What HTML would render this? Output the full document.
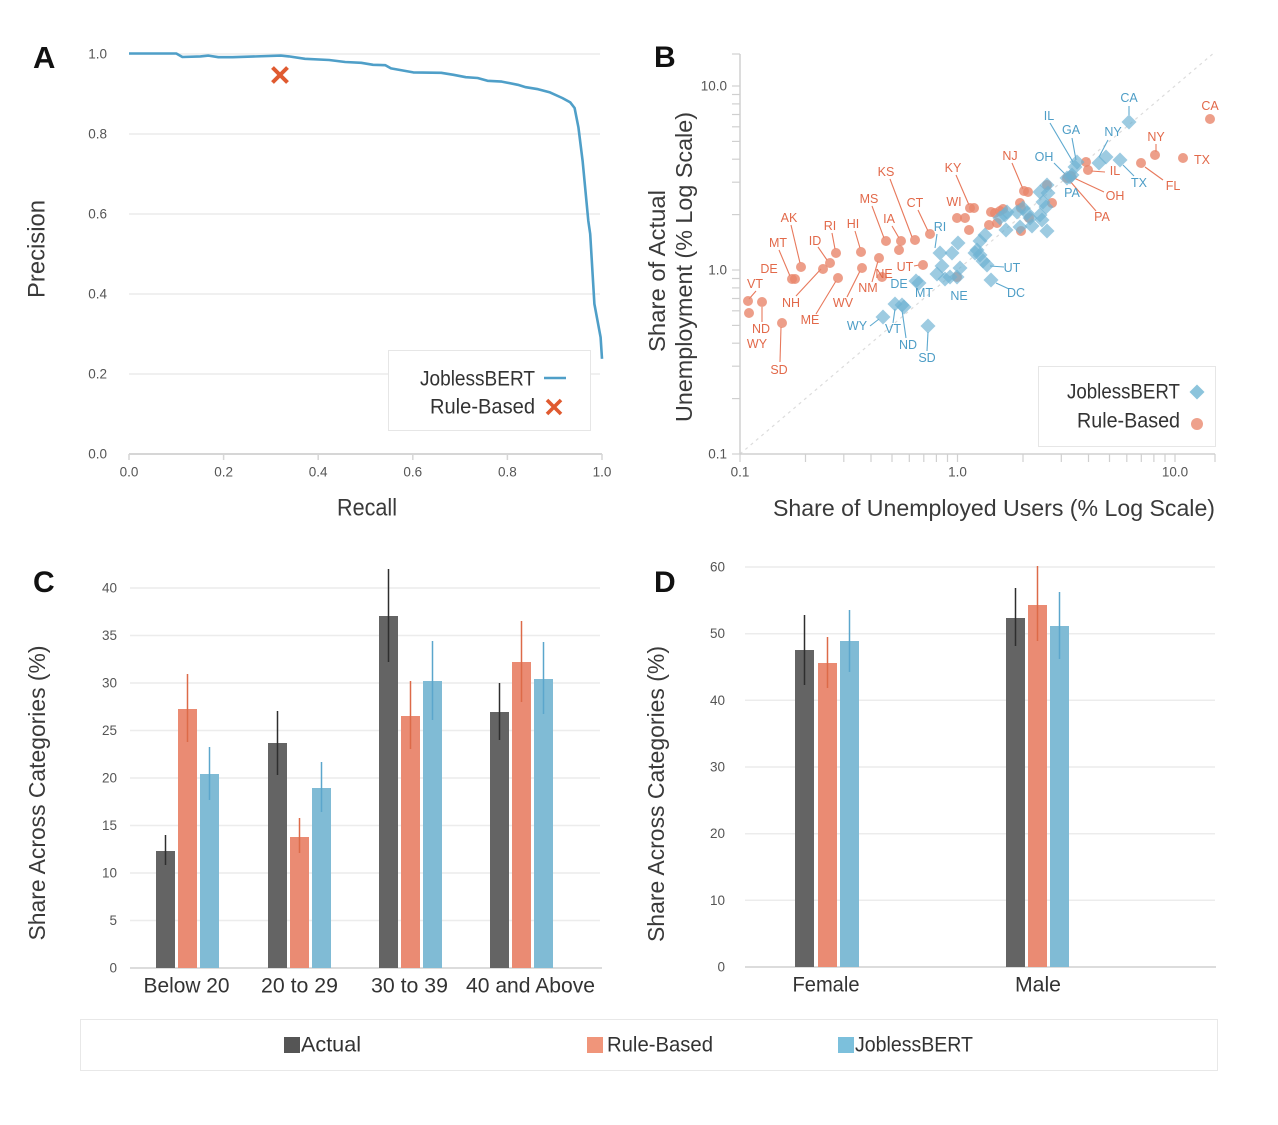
<!DOCTYPE html>
<html><head><meta charset="utf-8"><style>
html,body{margin:0;padding:0;background:#fff;}
svg{display:block;font-family:"Liberation Sans",sans-serif;}
</style></head><body>
<svg width="1278" height="1125" viewBox="0 0 1278 1125" xmlns="http://www.w3.org/2000/svg">
<defs>
<path id="dm" d="M0,-7.5L7.5,0L0,7.5L-7.5,0Z"/>
</defs>
<rect width="1278" height="1125" fill="#fff"/>

<!-- ============ PANEL A ============ -->
<text x="33" y="68" font-size="31" font-weight="bold" fill="#111">A</text>
<g stroke="#ececec" stroke-width="1.5">
<line x1="129" y1="54" x2="600" y2="54"/>
<line x1="129" y1="134" x2="600" y2="134"/>
<line x1="129" y1="214" x2="600" y2="214"/>
<line x1="129" y1="294" x2="600" y2="294"/>
<line x1="129" y1="374" x2="600" y2="374"/>
</g>
<line x1="129" y1="454" x2="602" y2="454" stroke="#d6d6d6" stroke-width="2"/>
<g stroke="#d6d6d6" stroke-width="1.5">
<line x1="129" y1="454" x2="129" y2="460"/><line x1="223.6" y1="454" x2="223.6" y2="460"/>
<line x1="318.2" y1="454" x2="318.2" y2="460"/><line x1="412.8" y1="454" x2="412.8" y2="460"/>
<line x1="507.4" y1="454" x2="507.4" y2="460"/><line x1="602" y1="454" x2="602" y2="460"/>
</g>
<g font-size="13.5" fill="#555" text-anchor="end" dominant-baseline="central">
<text x="107" y="54">1.0</text><text x="107" y="134">0.8</text><text x="107" y="214">0.6</text>
<text x="107" y="294">0.4</text><text x="107" y="374">0.2</text><text x="107" y="454">0.0</text>
</g>
<g font-size="13.5" fill="#555" text-anchor="middle" dominant-baseline="central">
<text x="129" y="472">0.0</text><text x="223.6" y="472">0.2</text><text x="318.2" y="472">0.4</text>
<text x="412.8" y="472">0.6</text><text x="507.4" y="472">0.8</text><text x="602" y="472">1.0</text>
</g>
<text x="367" y="508" font-size="24" fill="#3a3a3a" text-anchor="middle" dominant-baseline="central" textLength="60" lengthAdjust="spacingAndGlyphs">Recall</text>
<text transform="translate(37,249) rotate(-90)" font-size="24" fill="#3a3a3a" text-anchor="middle" dominant-baseline="central" textLength="98" lengthAdjust="spacingAndGlyphs">Precision</text>
<polyline fill="none" stroke="#4f9fc8" stroke-width="2.6" stroke-linejoin="round" points="129,53.5 176.3,53.5 182.4,57 200.4,56.4 208.5,55.6 218.4,57.2 232.6,57.2 280.8,55.6 288.9,56.4 305,58.8 329.1,60 345.2,62 361.2,62.8 373.1,64.8 385.4,65.2 391,68.4 413.3,72.4 441.2,72.8 453.5,74.8 465.8,77.2 477.6,78 487.5,80.8 501.7,81.6 517.8,84.8 525.8,87.2 538.1,89.2 550,92.4 562.3,98 570.3,102.4 574.6,108 578.4,127.2 582.6,160.8 588.3,220.8 590.2,234 594.4,304 600.6,337.2 602,358.8"/>
<g stroke="#e05a30" stroke-width="4" stroke-linecap="butt">
<line x1="272.5" y1="67.5" x2="287.5" y2="82.5"/><line x1="287.5" y1="67.5" x2="272.5" y2="82.5"/>
</g>
<rect x="388.5" y="350.5" width="202" height="80" fill="#fff" stroke="#e6e6e6" stroke-width="1"/>
<text x="535" y="379" font-size="21" fill="#333" text-anchor="end" dominant-baseline="central" textLength="115" lengthAdjust="spacingAndGlyphs">JoblessBERT</text>
<line x1="544" y1="378" x2="566" y2="378" stroke="#4f9fc8" stroke-width="2.6"/>
<text x="535" y="407" font-size="21" fill="#333" text-anchor="end" dominant-baseline="central" textLength="105" lengthAdjust="spacingAndGlyphs">Rule-Based</text>
<g stroke="#e05a30" stroke-width="3.6">
<line x1="547" y1="400" x2="561" y2="414"/><line x1="561" y1="400" x2="547" y2="414"/>
</g>

<!-- ============ PANEL B ============ -->
<text x="654" y="67" font-size="30" font-weight="bold" fill="#111">B</text>
<line x1="740" y1="454" x2="1215" y2="52" stroke="#dcdcdc" stroke-width="1.2" stroke-dasharray="3,4"/>
<line x1="740" y1="54" x2="740" y2="454" stroke="#d0d0d0" stroke-width="1.5"/>
<line x1="740" y1="454" x2="1215" y2="454" stroke="#d0d0d0" stroke-width="1.5"/>
<g stroke="#d0d0d0" stroke-width="1.2">
<line x1="732" y1="454" x2="740" y2="454"/><line x1="732" y1="398.6" x2="740" y2="398.6"/><line x1="732" y1="366.2" x2="740" y2="366.2"/><line x1="732" y1="343.2" x2="740" y2="343.2"/><line x1="732" y1="325.4" x2="740" y2="325.4"/><line x1="732" y1="310.8" x2="740" y2="310.8"/><line x1="732" y1="298.5" x2="740" y2="298.5"/><line x1="732" y1="287.9" x2="740" y2="287.9"/><line x1="732" y1="278.5" x2="740" y2="278.5"/><line x1="732" y1="270" x2="740" y2="270"/>
<line x1="732" y1="214.6" x2="740" y2="214.6"/><line x1="732" y1="182.2" x2="740" y2="182.2"/><line x1="732" y1="159.2" x2="740" y2="159.2"/><line x1="732" y1="141.4" x2="740" y2="141.4"/><line x1="732" y1="126.8" x2="740" y2="126.8"/><line x1="732" y1="114.5" x2="740" y2="114.5"/><line x1="732" y1="103.9" x2="740" y2="103.9"/><line x1="732" y1="94.5" x2="740" y2="94.5"/><line x1="732" y1="86" x2="740" y2="86"/><line x1="732" y1="54" x2="740" y2="54"/>
<line x1="740" y1="454" x2="740" y2="462"/><line x1="805.5" y1="454" x2="805.5" y2="462"/><line x1="843.8" y1="454" x2="843.8" y2="462"/><line x1="871" y1="454" x2="871" y2="462"/><line x1="892" y1="454" x2="892" y2="462"/><line x1="909.3" y1="454" x2="909.3" y2="462"/><line x1="923.8" y1="454" x2="923.8" y2="462"/><line x1="936.4" y1="454" x2="936.4" y2="462"/><line x1="947.5" y1="454" x2="947.5" y2="462"/><line x1="957.5" y1="454" x2="957.5" y2="462"/>
<line x1="1023" y1="454" x2="1023" y2="462"/><line x1="1061.3" y1="454" x2="1061.3" y2="462"/><line x1="1088.5" y1="454" x2="1088.5" y2="462"/><line x1="1109.5" y1="454" x2="1109.5" y2="462"/><line x1="1126.8" y1="454" x2="1126.8" y2="462"/><line x1="1141.3" y1="454" x2="1141.3" y2="462"/><line x1="1153.9" y1="454" x2="1153.9" y2="462"/><line x1="1165" y1="454" x2="1165" y2="462"/><line x1="1175" y1="454" x2="1175" y2="462"/><line x1="1215" y1="454" x2="1215" y2="462"/>
</g>
<g font-size="13.5" fill="#555" text-anchor="end" dominant-baseline="central">
<text x="727" y="86">10.0</text><text x="727" y="270">1.0</text><text x="727" y="454">0.1</text>
</g>
<g font-size="13.5" fill="#555" text-anchor="middle" dominant-baseline="central">
<text x="740" y="472">0.1</text><text x="957.5" y="472">1.0</text><text x="1175" y="472">10.0</text>
</g>
<text x="994" y="508" font-size="23" fill="#3a3a3a" text-anchor="middle" dominant-baseline="central" textLength="442" lengthAdjust="spacingAndGlyphs">Share of Unemployed Users (% Log Scale)</text>
<text transform="translate(657,271) rotate(-90)" font-size="23" fill="#3a3a3a" text-anchor="middle" dominant-baseline="central" textLength="162" lengthAdjust="spacingAndGlyphs">Share of Actual</text>
<text transform="translate(684,267) rotate(-90)" font-size="23" fill="#3a3a3a" text-anchor="middle" dominant-baseline="central" textLength="310" lengthAdjust="spacingAndGlyphs">Unemployment (% Log Scale)</text>

<!-- leader lines orange -->
<g stroke="#e8795c" stroke-width="1.1" fill="none">
<line x1="1156" y1="144" x2="1156" y2="152"/>
<line x1="1163" y1="180" x2="1145" y2="167"/>
<line x1="1105" y1="172" x2="1091" y2="171"/>
<line x1="1104" y1="192" x2="1074" y2="178"/>
<line x1="1096" y1="211" x2="1069" y2="180"/>
<line x1="1012" y1="163" x2="1023" y2="189"/>
<line x1="956" y1="175" x2="969" y2="205"/>
<line x1="918" y1="210" x2="928" y2="231"/>
<line x1="890" y1="179" x2="912" y2="237"/>
<line x1="872" y1="206" x2="884" y2="238"/>
<line x1="892" y1="226" x2="899" y2="238"/>
<line x1="855" y1="231" x2="860" y2="248"/>
<line x1="832" y1="233" x2="835" y2="249"/>
<line x1="818" y1="247" x2="827" y2="260"/>
<line x1="791" y1="225" x2="800" y2="263"/>
<line x1="779" y1="250" x2="790" y2="276"/>
<line x1="796" y1="296" x2="821" y2="269"/>
<line x1="816" y1="314" x2="836" y2="281"/>
<line x1="847" y1="297" x2="860" y2="271"/>
<line x1="872" y1="282" x2="878" y2="261"/>
<line x1="756" y1="291" x2="749" y2="299"/>
<line x1="762" y1="322" x2="762" y2="307"/>
<line x1="780" y1="362" x2="781" y2="327"/>
<line x1="914" y1="266" x2="919" y2="265"/>
</g>
<!-- leader lines blue -->
<g stroke="#5ea9cf" stroke-width="1.1" fill="none">
<line x1="1129" y1="106" x2="1129" y2="115"/>
<line x1="1050" y1="123" x2="1073" y2="162"/>
<line x1="1072" y1="138" x2="1076" y2="160"/>
<line x1="1108" y1="140" x2="1099" y2="157"/>
<line x1="1134" y1="176" x2="1123" y2="165"/>
<line x1="1054" y1="163" x2="1065" y2="174"/>
<line x1="937" y1="234" x2="935" y2="248"/>
<line x1="1004" y1="267" x2="990" y2="266"/>
<line x1="1009" y1="289" x2="996" y2="283"/>
<line x1="870" y1="326" x2="879" y2="319"/>
<line x1="893" y1="323" x2="895" y2="309"/>
<line x1="906" y1="338" x2="902" y2="310"/>
<line x1="927" y1="351" x2="928" y2="332"/>
</g>

<!-- orange circles -->
<g fill="#e8866c" fill-opacity="0.8">
<circle cx="1210" cy="119" r="5"/><circle cx="1183" cy="158" r="5"/><circle cx="1155" cy="155" r="5"/><circle cx="1141" cy="163" r="5"/>
<circle cx="1086" cy="162" r="5"/><circle cx="1088" cy="170" r="5"/><circle cx="1071" cy="176" r="5"/><circle cx="1067" cy="178" r="5"/>
<circle cx="1024" cy="191" r="5"/><circle cx="1028" cy="192" r="5"/><circle cx="1047" cy="185" r="5"/><circle cx="1052" cy="203" r="5"/>
<circle cx="1020" cy="203" r="5"/><circle cx="1021" cy="231" r="5"/><circle cx="1029" cy="218" r="5"/><circle cx="1021" cy="208" r="5"/>
<circle cx="991" cy="212" r="5"/><circle cx="995" cy="213" r="5"/><circle cx="1000" cy="211" r="5"/><circle cx="1003" cy="209" r="5"/>
<circle cx="997" cy="223" r="5"/><circle cx="989" cy="225" r="5"/><circle cx="970" cy="208" r="5"/><circle cx="974" cy="208" r="5"/>
<circle cx="957" cy="218" r="5"/><circle cx="965" cy="218" r="5"/><circle cx="969" cy="230" r="5"/><circle cx="957" cy="277" r="5"/>
<circle cx="930" cy="234" r="5"/><circle cx="915" cy="240" r="5"/><circle cx="901" cy="241" r="5"/><circle cx="899" cy="250" r="5"/>
<circle cx="886" cy="241" r="5"/><circle cx="861" cy="252" r="5"/><circle cx="836" cy="253" r="5"/><circle cx="830" cy="263" r="5"/>
<circle cx="823" cy="269" r="5"/><circle cx="801" cy="267" r="5"/><circle cx="792" cy="279" r="5"/><circle cx="795" cy="279" r="5"/>
<circle cx="838" cy="278" r="5"/><circle cx="862" cy="268" r="5"/><circle cx="879" cy="258" r="5"/><circle cx="882" cy="277" r="5"/>
<circle cx="923" cy="265" r="5"/><circle cx="748" cy="301" r="5"/><circle cx="762" cy="302" r="5"/><circle cx="749" cy="313" r="5"/>
<circle cx="782" cy="323" r="5"/>
</g>
<!-- blue diamonds -->
<g fill="#6fb3d3" fill-opacity="0.68">
<use href="#dm" x="1129" y="122"/><use href="#dm" x="1106" y="157"/><use href="#dm" x="1099" y="163"/><use href="#dm" x="1120" y="160"/>
<use href="#dm" x="1077" y="162"/><use href="#dm" x="1075" y="167"/><use href="#dm" x="1072" y="175"/><use href="#dm" x="1067" y="178"/><use href="#dm" x="1070" y="177"/>
<use href="#dm" x="1047" y="185"/><use href="#dm" x="1040" y="192"/><use href="#dm" x="1048" y="193"/><use href="#dm" x="1043" y="202"/>
<use href="#dm" x="1046" y="207"/><use href="#dm" x="1042" y="220"/><use href="#dm" x="1047" y="231"/>
<use href="#dm" x="1023" y="208"/><use href="#dm" x="1017" y="212"/><use href="#dm" x="1027" y="213"/><use href="#dm" x="1030" y="218"/>
<use href="#dm" x="1007" y="212"/><use href="#dm" x="1040" y="215"/><use href="#dm" x="1020" y="227"/><use href="#dm" x="1032" y="226"/>
<use href="#dm" x="1000" y="218"/><use href="#dm" x="1005" y="215"/><use href="#dm" x="1006" y="230"/>
<use href="#dm" x="985" y="235"/><use href="#dm" x="980" y="241"/><use href="#dm" x="977" y="250"/><use href="#dm" x="980" y="255"/>
<use href="#dm" x="975" y="253"/><use href="#dm" x="983" y="261"/><use href="#dm" x="987" y="265"/><use href="#dm" x="991" y="280"/>
<use href="#dm" x="958" y="243"/><use href="#dm" x="952" y="253"/><use href="#dm" x="940" y="253"/>
<use href="#dm" x="942" y="266"/><use href="#dm" x="960" y="268"/><use href="#dm" x="937" y="274"/><use href="#dm" x="945" y="279"/>
<use href="#dm" x="950" y="277"/><use href="#dm" x="957" y="277"/>
<use href="#dm" x="916" y="281"/><use href="#dm" x="919" y="283"/>
<use href="#dm" x="883" y="317"/><use href="#dm" x="895" y="304"/><use href="#dm" x="902" y="305"/><use href="#dm" x="904" y="307"/>
<use href="#dm" x="928" y="326"/>
</g>
<!-- state labels orange -->
<g font-size="12.5" fill="#e2694a" text-anchor="middle" dominant-baseline="central">
<text x="1210" y="106">CA</text><text x="1156" y="137">NY</text><text x="1202" y="160">TX</text><text x="1173" y="186">FL</text>
<text x="1115" y="171">IL</text><text x="1115" y="196">OH</text><text x="1102" y="217">PA</text><text x="1010" y="156">NJ</text>
<text x="953" y="168">KY</text><text x="954" y="202">WI</text><text x="915" y="203">CT</text><text x="886" y="172">KS</text>
<text x="869" y="199">MS</text><text x="889" y="219">IA</text><text x="853" y="224">HI</text><text x="830" y="226">RI</text>
<text x="789" y="218">AK</text><text x="815" y="241">ID</text><text x="778" y="243">MT</text><text x="769" y="269">DE</text>
<text x="755" y="284">VT</text><text x="791" y="303">NH</text><text x="761" y="329">ND</text><text x="757" y="344">WY</text>
<text x="779" y="370">SD</text><text x="810" y="320">ME</text><text x="843" y="303">WV</text><text x="868" y="288">NM</text>
<text x="884" y="274">NE</text><text x="905" y="267">UT</text>
</g>
<!-- state labels blue -->
<g font-size="12.5" fill="#4d9dc6" text-anchor="middle" dominant-baseline="central">
<text x="1129" y="98">CA</text><text x="1049" y="116">IL</text><text x="1071" y="130">GA</text><text x="1113" y="132">NY</text>
<text x="1044" y="157">OH</text><text x="1072" y="193">PA</text><text x="1139" y="183">TX</text><text x="940" y="227">RI</text>
<text x="1012" y="268">UT</text><text x="1016" y="293">DC</text><text x="959" y="296">NE</text><text x="924" y="293">MT</text>
<text x="899" y="284">DE</text><text x="857" y="326">WY</text><text x="893" y="329">VT</text><text x="908" y="345">ND</text>
<text x="927" y="358">SD</text>
</g>
<rect x="1038.5" y="366.5" width="177" height="80" fill="#fff" stroke="#e6e6e6" stroke-width="1"/>
<text x="1180" y="392" font-size="21" fill="#333" text-anchor="end" dominant-baseline="central" textLength="113" lengthAdjust="spacingAndGlyphs">JoblessBERT</text>
<use href="#dm" x="1197" y="392" fill="#8cc4dc"/>
<text x="1180" y="421" font-size="21" fill="#333" text-anchor="end" dominant-baseline="central" textLength="103" lengthAdjust="spacingAndGlyphs">Rule-Based</text>
<circle cx="1197" cy="424" r="6" fill="#eea18c"/>

<!-- ============ PANEL C ============ -->
<text x="33" y="592" font-size="30" font-weight="bold" fill="#111">C</text>
<g stroke="#ececec" stroke-width="1.5">
<line x1="130" y1="588" x2="600" y2="588"/><line x1="130" y1="635.5" x2="600" y2="635.5"/>
<line x1="130" y1="683" x2="600" y2="683"/><line x1="130" y1="730.5" x2="600" y2="730.5"/>
<line x1="130" y1="778" x2="600" y2="778"/><line x1="130" y1="825.5" x2="600" y2="825.5"/>
<line x1="130" y1="873" x2="600" y2="873"/><line x1="130" y1="920.5" x2="600" y2="920.5"/>
</g>
<line x1="130" y1="968" x2="602" y2="968" stroke="#dcdcdc" stroke-width="2"/>
<g font-size="13.5" fill="#555" text-anchor="end" dominant-baseline="central">
<text x="117" y="588">40</text><text x="117" y="635.5">35</text><text x="117" y="683">30</text>
<text x="117" y="730.5">25</text><text x="117" y="778">20</text><text x="117" y="825.5">15</text>
<text x="117" y="873">10</text><text x="117" y="920.5">5</text><text x="117" y="968">0</text>
</g>
<g fill="#646464">
<rect x="156" y="851" width="19" height="117"/><rect x="268" y="743" width="19" height="225"/>
<rect x="379" y="616" width="19" height="352"/><rect x="490" y="712" width="19" height="256"/>
</g>
<g fill="#ea8b73">
<rect x="178" y="709" width="19" height="259"/><rect x="290" y="837" width="19" height="131"/>
<rect x="401" y="716" width="19" height="252"/><rect x="512" y="662" width="19" height="306"/>
</g>
<g fill="#80bbd5">
<rect x="200" y="774" width="19" height="194"/><rect x="312" y="788" width="19" height="180"/>
<rect x="423" y="681" width="19" height="287"/><rect x="534" y="679" width="19" height="289"/>
</g>
<g stroke="#2e2e2e" stroke-width="1.5">
<line x1="165.5" y1="835" x2="165.5" y2="865"/><line x1="277.5" y1="711" x2="277.5" y2="775"/>
<line x1="388.5" y1="569" x2="388.5" y2="662"/><line x1="499.5" y1="683" x2="499.5" y2="740"/>
</g>
<g stroke="#dd6a48" stroke-width="1.5">
<line x1="187.5" y1="674" x2="187.5" y2="742"/><line x1="299.5" y1="818" x2="299.5" y2="853"/>
<line x1="410.5" y1="681" x2="410.5" y2="749"/><line x1="521.5" y1="621" x2="521.5" y2="702"/>
</g>
<g stroke="#5ba6cc" stroke-width="1.5">
<line x1="209.5" y1="747" x2="209.5" y2="800"/><line x1="321.5" y1="762" x2="321.5" y2="812"/>
<line x1="432.5" y1="641" x2="432.5" y2="720"/><line x1="543.5" y1="642" x2="543.5" y2="714"/>
</g>
<g font-size="21" fill="#333" text-anchor="middle" dominant-baseline="central">
<text x="186.5" y="986" textLength="86" lengthAdjust="spacingAndGlyphs">Below 20</text>
<text x="299.5" y="986" textLength="77" lengthAdjust="spacingAndGlyphs">20 to 29</text>
<text x="409.5" y="986" textLength="77" lengthAdjust="spacingAndGlyphs">30 to 39</text>
<text x="530.5" y="986" textLength="129" lengthAdjust="spacingAndGlyphs">40 and Above</text>
</g>
<text transform="translate(37,793) rotate(-90)" font-size="23" fill="#3a3a3a" text-anchor="middle" dominant-baseline="central" textLength="295" lengthAdjust="spacingAndGlyphs">Share Across Categories (%)</text>

<!-- ============ PANEL D ============ -->
<text x="654" y="592" font-size="30" font-weight="bold" fill="#111">D</text>
<g stroke="#ececec" stroke-width="1.5">
<line x1="745" y1="567" x2="1215" y2="567"/><line x1="745" y1="633.7" x2="1215" y2="633.7"/>
<line x1="745" y1="700.3" x2="1215" y2="700.3"/><line x1="745" y1="767" x2="1215" y2="767"/>
<line x1="745" y1="833.7" x2="1215" y2="833.7"/><line x1="745" y1="900.3" x2="1215" y2="900.3"/>
</g>
<line x1="745" y1="967" x2="1216" y2="967" stroke="#dcdcdc" stroke-width="2"/>
<g font-size="13.5" fill="#555" text-anchor="end" dominant-baseline="central">
<text x="725" y="567">60</text><text x="725" y="633.7">50</text><text x="725" y="700.3">40</text>
<text x="725" y="767">30</text><text x="725" y="833.7">20</text><text x="725" y="900.3">10</text>
<text x="725" y="967">0</text>
</g>
<rect x="795" y="650" width="19" height="317" fill="#646464"/>
<rect x="818" y="663" width="19" height="304" fill="#ea8b73"/>
<rect x="840" y="641" width="19" height="326" fill="#80bbd5"/>
<rect x="1006" y="618" width="19" height="349" fill="#646464"/>
<rect x="1028" y="605" width="19" height="362" fill="#ea8b73"/>
<rect x="1050" y="626" width="19" height="341" fill="#80bbd5"/>
<g stroke-width="1.5">
<line x1="804.5" y1="615" x2="804.5" y2="685" stroke="#2e2e2e"/>
<line x1="827.5" y1="637" x2="827.5" y2="688" stroke="#dd6a48"/>
<line x1="849.5" y1="610" x2="849.5" y2="672" stroke="#5ba6cc"/>
<line x1="1015.5" y1="588" x2="1015.5" y2="646" stroke="#2e2e2e"/>
<line x1="1037.5" y1="566" x2="1037.5" y2="641" stroke="#dd6a48"/>
<line x1="1059.5" y1="592" x2="1059.5" y2="659" stroke="#5ba6cc"/>
</g>
<g font-size="21" fill="#333" text-anchor="middle" dominant-baseline="central">
<text x="826" y="985" textLength="67" lengthAdjust="spacingAndGlyphs">Female</text>
<text x="1038" y="985" textLength="46" lengthAdjust="spacingAndGlyphs">Male</text>
</g>
<text transform="translate(656,794) rotate(-90)" font-size="23" fill="#3a3a3a" text-anchor="middle" dominant-baseline="central" textLength="296" lengthAdjust="spacingAndGlyphs">Share Across Categories (%)</text>

<!-- ============ BOTTOM LEGEND ============ -->
<rect x="80.5" y="1019.5" width="1137" height="51" fill="#fff" stroke="#e8e8e8" stroke-width="1"/>
<rect x="284" y="1037" width="16" height="16" fill="#555"/>
<text x="301" y="1045" font-size="21" fill="#333" dominant-baseline="central" textLength="60" lengthAdjust="spacingAndGlyphs">Actual</text>
<rect x="587" y="1037" width="16" height="16" fill="#f0957a"/>
<text x="607" y="1045" font-size="21" fill="#333" dominant-baseline="central" textLength="106" lengthAdjust="spacingAndGlyphs">Rule-Based</text>
<rect x="838" y="1037" width="16" height="16" fill="#7cc0dc"/>
<text x="855" y="1045" font-size="21" fill="#333" dominant-baseline="central" textLength="118" lengthAdjust="spacingAndGlyphs">JoblessBERT</text>
</svg>
</body></html>
